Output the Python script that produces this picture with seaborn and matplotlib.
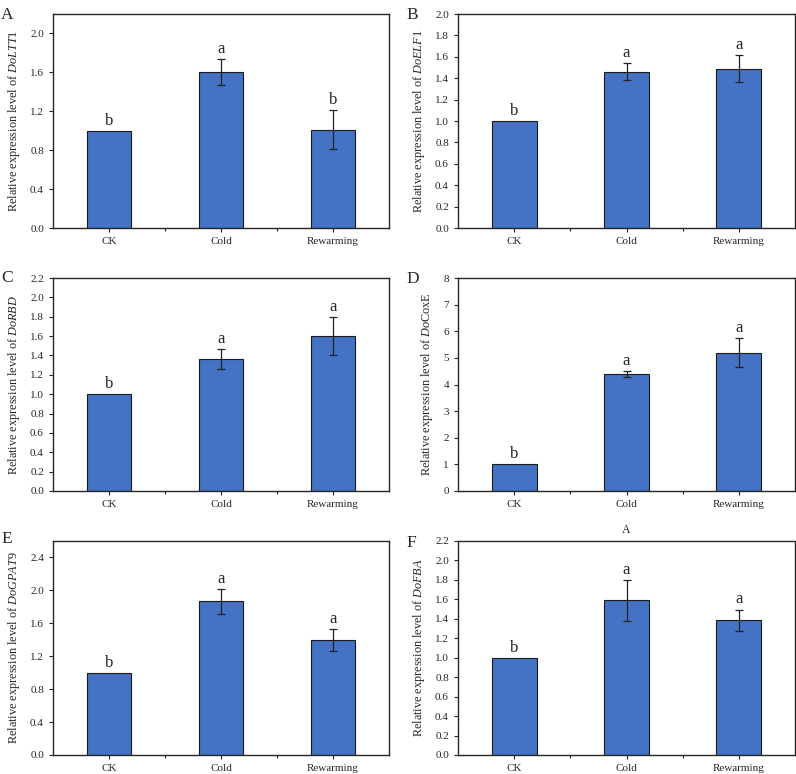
import numpy as np
import pandas as pd
import seaborn as sns
import matplotlib.pyplot as plt
from matplotlib.ticker import FormatStrFormatter, FixedLocator

sns.set_style("ticks")
plt.rcParams["font.family"] = ["Liberation Serif", "DejaVu Serif"]
plt.rcParams["mathtext.fontset"] = "custom"
plt.rcParams["mathtext.rm"] = "Liberation Serif"
plt.rcParams["mathtext.it"] = "Liberation Serif:italic"
plt.rcParams["axes.linewidth"] = 1.0
plt.rcParams["xtick.labelsize"] = 8
plt.rcParams["ytick.labelsize"] = 8
plt.rcParams["axes.labelsize"] = 8.8
plt.rcParams["xtick.major.size"] = 3
plt.rcParams["ytick.major.size"] = 3
plt.rcParams["xtick.minor.size"] = 2
plt.rcParams["xtick.major.width"] = 0.8
plt.rcParams["ytick.major.width"] = 0.8
plt.rcParams["xtick.minor.width"] = 0.8

groups = ["CK", "Cold", "Rewarming"]

ltt1_mean = [1.0, 1.60, 1.01]
ltt1_err = [0, 0.135, 0.20]
ltt1_sig = ["b", "a", "b"]

elf1_mean = [1.0, 1.46, 1.49]
elf1_err = [0, 0.08, 0.13]
elf1_sig = ["b", "a", "a"]

rbd_mean = [1.0, 1.365, 1.60]
rbd_err = [0, 0.10, 0.20]
rbd_sig = ["b", "a", "a"]

coxe_mean = [1.0, 4.40, 5.20]
coxe_err = [0, 0.12, 0.56]
coxe_sig = ["b", "a", "a"]

gpat9_mean = [1.0, 1.865, 1.395]
gpat9_err = [0, 0.147, 0.13]
gpat9_sig = ["b", "a", "a"]

fba_mean = [1.0, 1.59, 1.385]
fba_err = [0, 0.21, 0.11]
fba_sig = ["b", "a", "a"]

panels = [
    ("A", r"Relative expression level of $\mathit{DoLTT1}$", ltt1_mean, ltt1_err, ltt1_sig, 2.2, np.arange(0, 2.01, 0.4), "%.1f"),
    ("B", r"Relative expression level of $\mathit{DoELF1}$", elf1_mean, elf1_err, elf1_sig, 2.0, np.arange(0, 2.01, 0.2), "%.1f"),
    ("C", r"Relative expression level of $\mathit{DoRBD}$", rbd_mean, rbd_err, rbd_sig, 2.2, np.arange(0, 2.21, 0.2), "%.1f"),
    ("D", r"Relative expression level of $\mathit{Do}$CoxE", coxe_mean, coxe_err, coxe_sig, 8, np.arange(0, 8.1, 1), "%d"),
    ("E", r"Relative expression level of $\mathit{DoGPAT9}$", gpat9_mean, gpat9_err, gpat9_sig, 2.6, np.arange(0, 2.41, 0.4), "%.1f"),
    ("F", r"Relative expression level of $\mathit{DoFBA}$", fba_mean, fba_err, fba_sig, 2.2, np.arange(0, 2.21, 0.2), "%.1f"),
]

# axes boxes in pixels: left, top, right, bottom
W, H = 796, 774
boxes = [
    (53, 14, 389, 228), (458, 14, 795, 228),
    (53, 278, 389, 491), (458, 278, 795, 491),
    (53, 541, 389, 755), (458, 541, 795, 755),
]
letter_pos = [(1, 7), (406, 7), (1, 270), (406, 271), (1, 531), (406, 535)]

fig = plt.figure(figsize=(W / 100, H / 100), dpi=100, facecolor="w")

for (tag, ylab, means, errs, sig, ytop, yticks, fmt), (l, t, r, b), (lx, ly) in zip(panels, boxes, letter_pos):
    ax = fig.add_axes([l / W, 1 - b / H, (r - l) / W, (b - t) / H])
    df = pd.DataFrame({"Group": groups, "Value": means})
    sns.barplot(data=df, x="Group", y="Value", color="#4472C4", saturation=1,
                width=0.4, edgecolor="#1a1a1a", linewidth=0.8, ax=ax, zorder=2)
    for i, (m, e) in enumerate(zip(means, errs)):
        if e > 0:
            ax.errorbar(i, m, yerr=e, color="#222222", lw=0.9, capsize=2.6,
                        capthick=0.9, zorder=3)
        ax.annotate(sig[i], (i, m + e), xytext=(0, 1.5), textcoords="offset points",
                    ha="center", va="bottom", fontsize=12)
    ax.set_xlim(-0.5, 2.5)
    ax.set_ylim(0, ytop)
    ax.set_yticks(yticks)
    ax.yaxis.set_major_formatter(FormatStrFormatter(fmt))
    ax.xaxis.set_minor_locator(FixedLocator([0.5, 1.5]))
    ax.set_xlabel("")
    ax.set_ylabel(ylab, labelpad=6)
    for s in ["top", "right", "left", "bottom"]:
        ax.spines[s].set_visible(True)
    fig.text(lx / W, 1 - ly / H, tag, fontsize=12.5, ha="left", va="top")
    if tag == "F":
        ax.set_title("A", fontsize=8.5, pad=6)

fig.savefig("out.png", dpi=100)
